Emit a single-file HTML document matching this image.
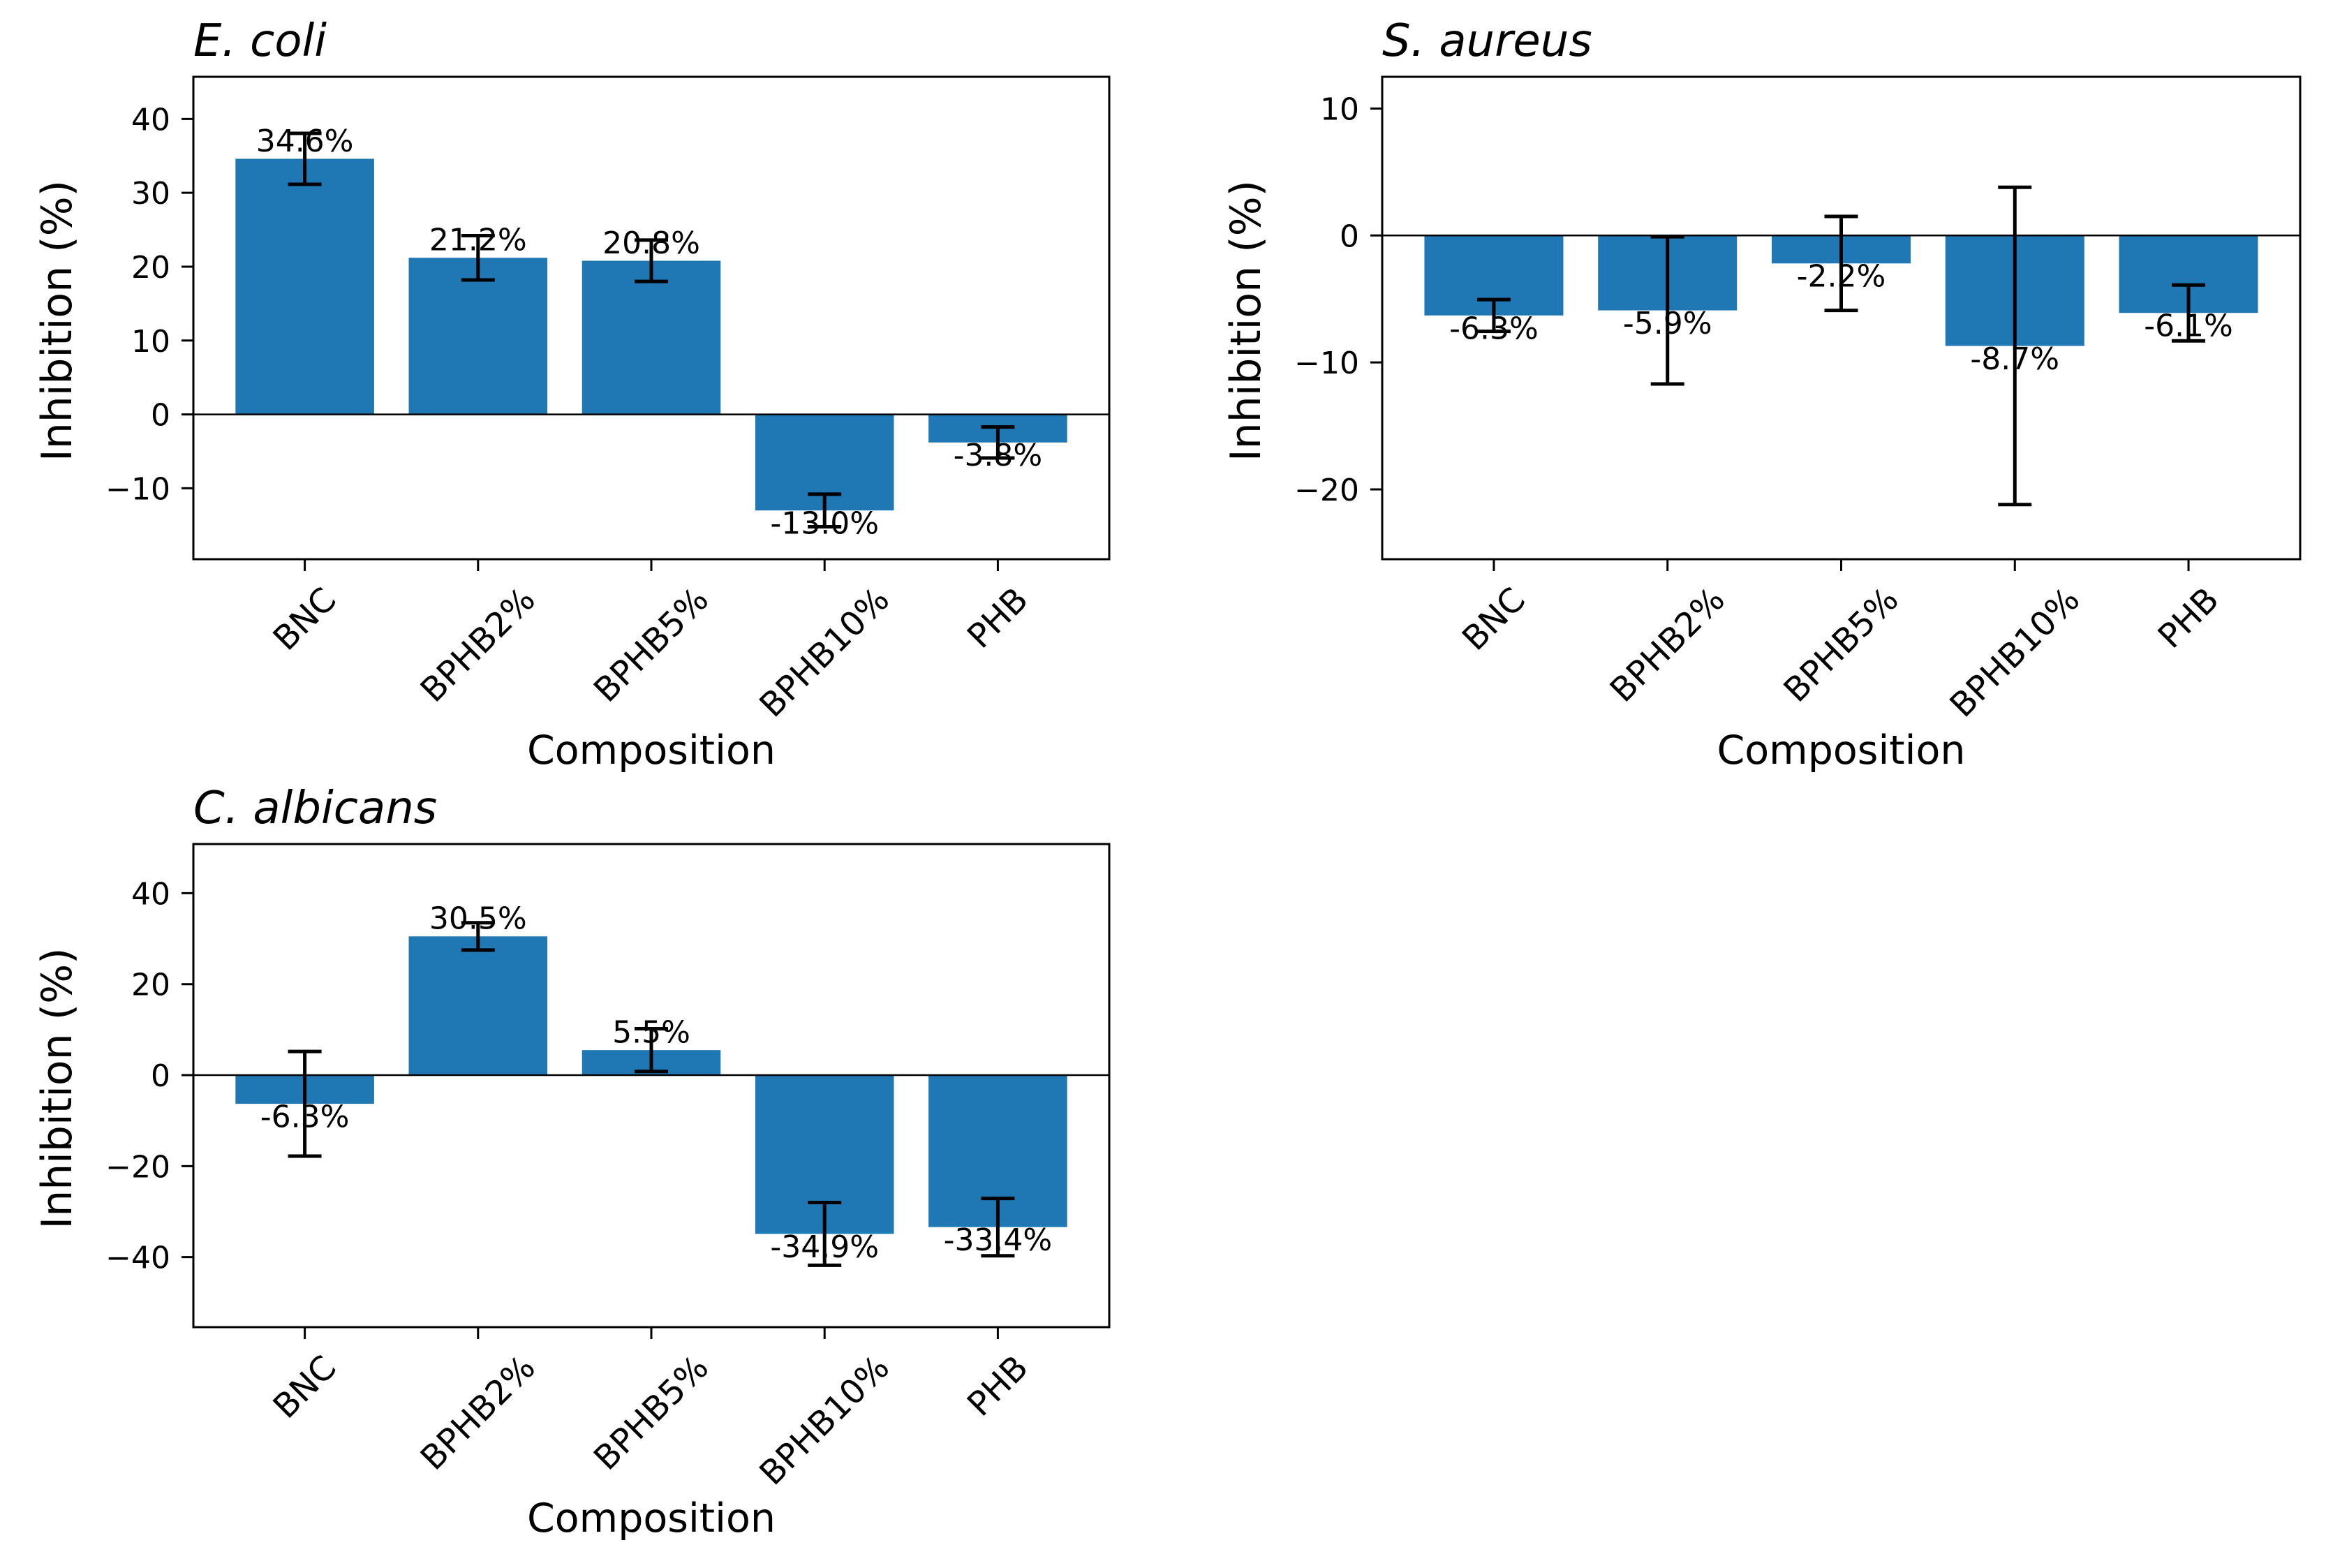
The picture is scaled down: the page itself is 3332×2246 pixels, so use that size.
<!DOCTYPE html>
<html><head><meta charset="utf-8"><style>
html,body{margin:0;padding:0;background:#fff}
svg{display:block;font-family:"DejaVu Sans","Liberation Sans",sans-serif}
</style></head><body>
<svg id="fig" width="3332" height="2246" viewBox="0 0 3332 2246" xmlns="http://www.w3.org/2000/svg"></svg>
<script>
const categories = ["BNC","BPHB2%","BPHB5%","BPHB10%","PHB"];
const ecoliValues = [34.6, 21.2, 20.8, -13.0, -3.8];
const ecoliErrors = [3.45, 3.0, 2.8, 2.2, 2.1];
const ecoliTicks = [40,30,20,10,0,-10];
const aureusValues = [-6.3, -5.9, -2.2, -8.7, -6.1];
const aureusErrors = [1.25, 5.8, 3.7, 12.5, 2.2];
const aureusTicks = [10,0,-10,-20];
const albicansValues = [-6.3, 30.5, 5.5, -34.9, -33.4];
const albicansErrors = [11.5, 3.0, 4.7, 6.9, 6.3];
const albicansTicks = [40,20,0,-20,-40];

const NS="http://www.w3.org/2000/svg";
const svg=document.getElementById('fig');
function mk(tag,attrs,parent){const e=document.createElementNS(NS,tag);for(const k in attrs)e.setAttribute(k,attrs[k]);(parent||svg).appendChild(e);return e;}
function fmt(v){return (v<0?'\u2212':'')+Math.abs(v);}

function panel(cfg){
  const g=mk('g',{});
  
  
  const L=cfg.left,R=cfg.right,T=cfg.top,B=cfg.bottom;
  const xmin=-0.643,xmax=4.643;
  const X=i=>L+(i-xmin)/(xmax-xmin)*(R-L);
  const Y=v=>T+(cfg.ymax-v)/(cfg.ymax-cfg.ymin)*(B-T);
  const bw=0.8*(R-L)/(xmax-xmin);
  cfg.values.forEach((v,i)=>{
    const r=mk('rect',{x:X(i)-bw/2,y:Math.min(Y(v),Y(0)),width:bw,height:Math.abs(Y(v)-Y(0)),fill:'#1f77b4'},g);
    
    
  });
  const zl=mk('line',{x1:L,x2:R,y1:Y(0),y2:Y(0),stroke:'#000','stroke-width':2.5},g);
  
  
  cfg.values.forEach((v,i)=>{
    const e=cfg.errors[i],x=X(i);
    const eg=mk('g',{stroke:'#000','stroke-width':5},g);
    
    
    mk('line',{x1:x,x2:x,y1:Y(v+e),y2:Y(v-e)},eg);
    mk('line',{x1:x-24,x2:x+24,y1:Y(v+e),y2:Y(v+e)},eg);
    mk('line',{x1:x-24,x2:x+24,y1:Y(v-e),y2:Y(v-e)},eg);
  });
  const fs=44;
  cfg.values.forEach((v,i)=>{
    const y=v>=0?Y(v)-0.24*fs:Y(v)+0.76*fs;
    const t=mk('text',{x:X(i),y:y,'font-size':fs,'text-anchor':'middle',fill:'#000'},g);
    t.textContent=v.toFixed(1)+'%';
    
    
  });
  const sp=mk('rect',{x:L,y:T,width:R-L,height:B-T,fill:'none',stroke:'#000','stroke-width':3},g);
  
  
  cfg.ticks.forEach(tv=>{
    const y=Y(tv);
    mk('line',{x1:L-17,x2:L,y1:y,y2:y,stroke:'#000','stroke-width':3},g);
    const t=mk('text',{x:L-33,y:y+16,'font-size':fs,'text-anchor':'end',fill:'#000'},g);
    t.textContent=fmt(tv);
    
    
  });
  categories.forEach((c,i)=>{
    const x=X(i);
    mk('line',{x1:x,x2:x,y1:B,y2:B+17,stroke:'#000','stroke-width':3},g);
    const t=mk('text',{x:x,y:0,'font-size':48,'text-anchor':'middle','dominant-baseline':'central',fill:'#000'},g);
    t.textContent=c;
    
    
    const w=t.getComputedTextLength(),h=48*1.16;
    const bh=(w+h)/Math.SQRT2;
    const cy=B+30+bh/2;
    t.setAttribute('y',cy);
    t.setAttribute('transform','rotate(-45 '+x+' '+cy+')');
  });
  const xl=mk('text',{x:(L+R)/2,y:B+293,'font-size':57,'text-anchor':'middle',fill:'#000'},g);
  xl.textContent='Composition';
  
  
  const yc=(T+B)/2+4,yx=L-195;
  const yl=mk('text',{x:yx,y:yc,'font-size':60,'text-anchor':'middle','dominant-baseline':'central',fill:'#000',transform:'rotate(-90 '+yx+' '+yc+')'},g);
  yl.textContent='Inhibition (%)';
  
  
  const tt=mk('text',{x:L,y:T-30,'font-size':64,'font-style':'italic',fill:'#000'},g);
  tt.textContent=cfg.title;
  
  
}
panel({name:'e-coli',title:'E. coli',left:277,right:1589,top:110,bottom:801,ymin:-19.6,ymax:45.7,values:ecoliValues,errors:ecoliErrors,ticks:ecoliTicks});
panel({name:'s-aureus',title:'S. aureus',left:1980,right:3295,top:110,bottom:801,ymin:-25.5,ymax:12.5,values:aureusValues,errors:aureusErrors,ticks:aureusTicks});
panel({name:'c-albicans',title:'C. albicans',left:277,right:1589,top:1209,bottom:1901,ymin:-55.4,ymax:50.8,values:albicansValues,errors:albicansErrors,ticks:albicansTicks});
</script>
</body></html>
